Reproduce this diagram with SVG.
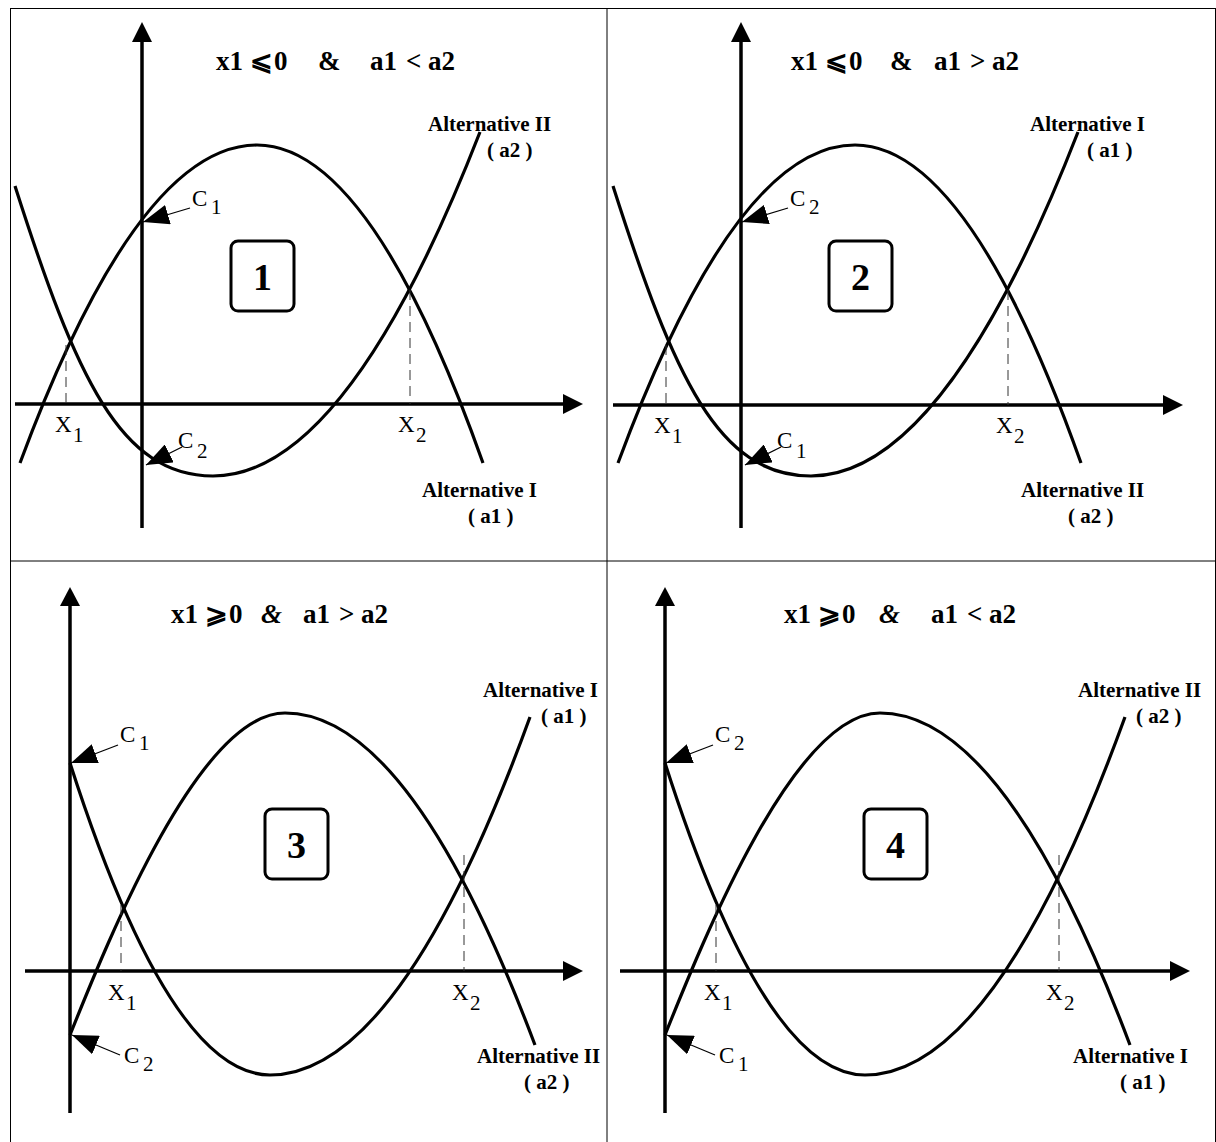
<svg xmlns="http://www.w3.org/2000/svg" width="1216" height="1142" viewBox="0 0 1216 1142">
<style>
.frame{fill:none;stroke:#000;stroke-width:1}
.grid{fill:none;stroke:#000;stroke-width:1}
.axis{fill:none;stroke:#000;stroke-width:3.5}
.head{fill:#000;stroke:none}
.curve{fill:none;stroke:#000;stroke-width:3.2}
.dash{fill:none;stroke:#333;stroke-width:1;stroke-dasharray:10 6}
.lead{fill:none;stroke:#000;stroke-width:1.3;marker-end:url(#tri)}
.title{font-family:"Liberation Serif","DejaVu Serif",serif;font-weight:bold;font-size:27px}
.amp{font-style:italic}
.alt{font-family:"Liberation Serif",serif;font-weight:bold;font-size:21px}
.lbl{font-family:"Liberation Serif",serif;font-size:23px}
.sub{font-size:21px}
.num{font-family:"Liberation Serif",serif;font-weight:bold;font-size:38px;text-anchor:middle}
.box{fill:#fff;stroke:#000;stroke-width:3}
</style>
<defs>
<marker id="tri" markerUnits="userSpaceOnUse" markerWidth="27" markerHeight="20" refX="26" refY="10" orient="auto">
<path d="M0,0 L26,10 L0,20 z" fill="#000"/>
</marker>
</defs>
<rect width="1216" height="1142" fill="#fff"/>
<g id="table">
<rect class="frame" x="10.5" y="8.5" width="1205" height="1145"/>
<line class="grid" x1="607" y1="8" x2="607" y2="1142"/>
<line class="grid" x1="10" y1="561" x2="1216" y2="561"/>
</g>

<!-- Panel 1 -->
<g id="panel1">
<g id="p1-axes">
<line class="axis" x1="142" y1="41" x2="142" y2="528"/>
<polygon class="head" points="142,22 152,42 132,42"/>
<line class="axis" x1="15" y1="404" x2="564" y2="404"/>
<polygon class="head" points="583,404 563,394 563,414"/>
</g>
<path id="p1-alt1" class="curve" d="M20,463 Q138,145 257,145 Q370,145 483,463"/>
<path id="p1-alt2" class="curve" d="M15,186 C76,377 120,476 213,476 Q346,476 480,132"/>
<line class="dash" x1="66" y1="345" x2="66" y2="404"/>
<line class="dash" x1="410" y1="290" x2="410" y2="404"/>
<text class="title" y="70"><tspan x="216">x1</tspan><tspan x="250">⩽</tspan><tspan x="274">0</tspan><tspan x="318">&amp;</tspan><tspan x="370">a1</tspan><tspan x="406">&lt;</tspan><tspan x="428">a2</tspan></text>
<g id="p1-box"><rect class="box" x="231" y="241" width="63" height="70" rx="7"/><text class="num" x="262.5" y="290">1</text></g>
<text class="alt" x="428" y="131">Alternative II</text>
<text class="alt" x="487" y="157">( a2 )</text>
<text class="alt" x="422" y="497">Alternative I</text>
<text class="alt" x="468" y="523">( a1 )</text>
<text class="lbl" x="192" y="206">C<tspan class="sub" x="211" y="214">1</tspan></text>
<text class="lbl" x="178" y="448">C<tspan class="sub" x="197" y="458">2</tspan></text>
<text class="lbl" x="55" y="432">X<tspan class="sub" x="73" y="442">1</tspan></text>
<text class="lbl" x="398" y="432">X<tspan class="sub" x="416" y="442">2</tspan></text>
</g>

<!-- Panel 2 -->
<g id="panel2">
<g id="p2-axes">
<line class="axis" x1="741" y1="41" x2="741" y2="528"/>
<polygon class="head" points="741,22 751,42 731,42"/>
<line class="axis" x1="613" y1="405" x2="1164" y2="405"/>
<polygon class="head" points="1183,405 1163,395 1163,415"/>
</g>
<path id="p2-alt2" class="curve" d="M618,463 Q736,145 855,145 Q968,145 1081,463"/>
<path id="p2-alt1" class="curve" d="M613,186 C674,377 718,476 811,476 Q944,476 1078,132"/>
<line class="dash" x1="666" y1="345" x2="666" y2="405"/>
<line class="dash" x1="1008" y1="290" x2="1008" y2="405"/>
<text class="title" y="70"><tspan x="791">x1</tspan><tspan x="825">⩽</tspan><tspan x="849">0</tspan><tspan x="890">&amp;</tspan><tspan x="934">a1</tspan><tspan x="970">&gt;</tspan><tspan x="992">a2</tspan></text>
<g id="p2-box"><rect class="box" x="829" y="241" width="63" height="70" rx="7"/><text class="num" x="860.5" y="290">2</text></g>
<text class="alt" x="1030" y="131">Alternative I</text>
<text class="alt" x="1087" y="157">( a1 )</text>
<text class="alt" x="1021" y="497">Alternative II</text>
<text class="alt" x="1068" y="523">( a2 )</text>
<text class="lbl" x="790" y="206">C<tspan class="sub" x="809" y="214">2</tspan></text>
<text class="lbl" x="777" y="448">C<tspan class="sub" x="796" y="458">1</tspan></text>
<text class="lbl" x="654" y="433">X<tspan class="sub" x="672" y="443">1</tspan></text>
<text class="lbl" x="996" y="433">X<tspan class="sub" x="1014" y="443">2</tspan></text>
</g>

<!-- Panel 3 -->
<g id="panel3">
<g id="p3-axes">
<line class="axis" x1="70" y1="605" x2="70" y2="1113"/>
<polygon class="head" points="70,587 80,606 60,606"/>
<line class="axis" x1="25" y1="971" x2="564" y2="971"/>
<polygon class="head" points="583,971 563,961 563,981"/>
</g>
<path id="p3-alt1" class="curve" d="M70,763 Q170,1075 270,1075 Q400,1075 530,717"/>
<path id="p3-alt2" class="curve" d="M70,1035 C110,935 200,713 285,713 Q410,713 535,1045"/>
<line class="dash" x1="121" y1="905" x2="121" y2="971"/>
<line class="dash" x1="464" y1="855" x2="464" y2="971"/>
<text class="title" y="623"><tspan x="171">x1</tspan><tspan x="205">⩾</tspan><tspan x="229">0</tspan><tspan class="amp" x="261">&amp;</tspan><tspan x="303">a1</tspan><tspan x="339">&gt;</tspan><tspan x="361">a2</tspan></text>
<g id="p3-box"><rect class="box" x="265" y="809" width="63" height="70" rx="7"/><text class="num" x="296.5" y="858">3</text></g>
<text class="alt" x="483" y="697">Alternative I</text>
<text class="alt" x="541" y="723">( a1 )</text>
<text class="alt" x="477" y="1063">Alternative II</text>
<text class="alt" x="524" y="1089">( a2 )</text>
<text class="lbl" x="120" y="742">C<tspan class="sub" x="139" y="750">1</tspan></text>
<text class="lbl" x="124" y="1063">C<tspan class="sub" x="143" y="1071">2</tspan></text>
<text class="lbl" x="108" y="1000">X<tspan class="sub" x="126" y="1010">1</tspan></text>
<text class="lbl" x="452" y="1000">X<tspan class="sub" x="470" y="1010">2</tspan></text>
</g>

<!-- Panel 4 -->
<g id="panel4">
<g id="p4-axes">
<line class="axis" x1="665" y1="605" x2="665" y2="1113"/>
<polygon class="head" points="665,587 675,606 655,606"/>
<line class="axis" x1="620" y1="971" x2="1171" y2="971"/>
<polygon class="head" points="1190,971 1170,961 1170,981"/>
</g>
<path id="p4-alt2" class="curve" d="M665,763 Q765,1075 865,1075 Q995,1075 1125,717"/>
<path id="p4-alt1" class="curve" d="M665,1035 C705,935 795,713 880,713 Q1005,713 1130,1045"/>
<line class="dash" x1="716" y1="905" x2="716" y2="971"/>
<line class="dash" x1="1059" y1="855" x2="1059" y2="971"/>
<text class="title" y="623"><tspan x="784">x1</tspan><tspan x="818">⩾</tspan><tspan x="842">0</tspan><tspan class="amp" x="879">&amp;</tspan><tspan x="931">a1</tspan><tspan x="967">&lt;</tspan><tspan x="989">a2</tspan></text>
<g id="p4-box"><rect class="box" x="864" y="809" width="63" height="70" rx="7"/><text class="num" x="895.5" y="858">4</text></g>
<text class="alt" x="1078" y="697">Alternative II</text>
<text class="alt" x="1136" y="723">( a2 )</text>
<text class="alt" x="1073" y="1063">Alternative I</text>
<text class="alt" x="1120" y="1089">( a1 )</text>
<text class="lbl" x="715" y="742">C<tspan class="sub" x="734" y="750">2</tspan></text>
<text class="lbl" x="719" y="1063">C<tspan class="sub" x="738" y="1071">1</tspan></text>
<text class="lbl" x="704" y="1000">X<tspan class="sub" x="722" y="1010">1</tspan></text>
<text class="lbl" x="1046" y="1000">X<tspan class="sub" x="1064" y="1010">2</tspan></text>
</g>

<g id="connectors">
<line class="lead" x1="190" y1="208" x2="143" y2="222"/>
<line class="lead" x1="182" y1="447" x2="146" y2="465"/>
<line class="lead" x1="788" y1="208" x2="742" y2="222"/>
<line class="lead" x1="781" y1="447" x2="745" y2="465"/>
<line class="lead" x1="118" y1="745" x2="71" y2="763"/>
<line class="lead" x1="120" y1="1055" x2="72" y2="1035"/>
<line class="lead" x1="713" y1="745" x2="666" y2="763"/>
<line class="lead" x1="715" y1="1055" x2="667" y2="1035"/>
</g>
</svg>
